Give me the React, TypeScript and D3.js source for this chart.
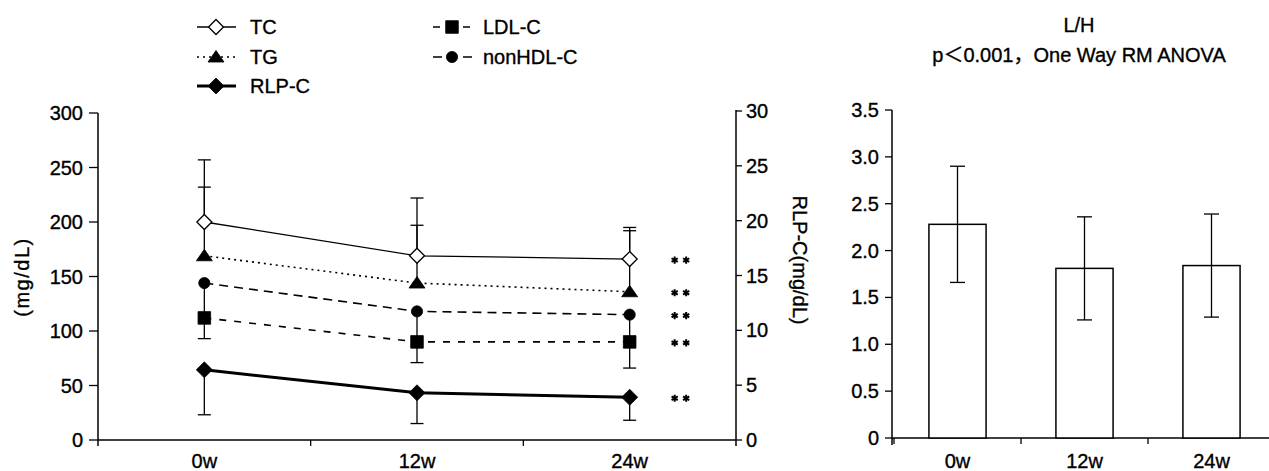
import React from 'react';
import * as d3 from 'd3';

// categories
const weeks = ['0w', '12w', '24w'];

// left chart (mg/dL)
const tcMean = [200, 169, 166];
const tcSdUp = [57, 53, 29];
const tgMean = [169, 144, 136];
const tgSdUp = [63, 53, 56];
const nonHdlMean = [144, 118, 115];
const nonHdlSdDown = [51, 47, 49];
const ldlMean = [112, 90, 90];
const rlpMean = [6.4, 4.3, 3.9]; // right axis, RLP-C
const rlpSdDown = [4.1, 2.8, 2.1];

// right chart L/H
const lhMean = [2.28, 1.81, 1.84];
const lhSd = [0.62, 0.55, 0.55];

const leftTicks = [0, 50, 100, 150, 200, 250, 300];
const rightTicks = [0, 5, 10, 15, 20, 25, 30];
const lhTicks = [0, 0.5, 1, 1.5, 2, 2.5, 3, 3.5];
const lhTickLabels = ['0', '0.5', '1.0', '1.5', '2.0', '2.5', '3.0', '3.5'];

const FONT = '"Liberation Sans", Arial, "Noto Sans CJK JP", sans-serif';

type Series = {
  name: string;
  values: number[];
  axis: 'left' | 'right';
  err: number[] | null;
  errDir: number; // +1 up, -1 down
  marker: string;
  width: number;
  dash: string | null;
  legend: [number, number];
};

const series: Series[] = [
  { name: 'TC', values: tcMean, axis: 'left', err: tcSdUp, errDir: 1, marker: 'diamondOpen', width: 1.3, dash: null, legend: [0, 0] },
  { name: 'TG', values: tgMean, axis: 'left', err: tgSdUp, errDir: 1, marker: 'triangle', width: 1.6, dash: '2 4', legend: [0, 1] },
  { name: 'RLP-C', values: rlpMean, axis: 'right', err: rlpSdDown, errDir: -1, marker: 'diamond', width: 3, dash: null, legend: [0, 2] },
  { name: 'LDL-C', values: ldlMean, axis: 'left', err: null, errDir: -1, marker: 'square', width: 1.6, dash: '7 8', legend: [1, 0] },
  { name: 'nonHDL-C', values: nonHdlMean, axis: 'left', err: nonHdlSdDown, errDir: -1, marker: 'circle', width: 1.6, dash: '9 6', legend: [1, 1] },
];

function Marker({ kind, x, y }: { kind: string; x: number; y: number }) {
  const p = d3.path();
  if (kind === 'diamond' || kind === 'diamondOpen') {
    const s = kind === 'diamond' ? 8 : 7.5;
    p.moveTo(x, y - s); p.lineTo(x + s, y); p.lineTo(x, y + s); p.lineTo(x - s, y); p.closePath();
  } else if (kind === 'triangle') {
    p.moveTo(x, y - 6.5); p.lineTo(x + 8, y + 5); p.lineTo(x - 8, y + 5); p.closePath();
  } else if (kind === 'square') {
    p.rect(x - 6.3, y - 6.3, 12.6, 12.6);
  } else {
    p.arc(x, y, 5.6, 0, Math.PI * 2);
  }
  const open = kind === 'diamondOpen';
  return <path d={p.toString()} fill={open ? '#fff' : '#000'} stroke="#000" strokeWidth={open ? 1.3 : 0.8} />;
}

export default function App() {
  const x = d3.scaleBand<string>().domain(weeks).range([98, 736]);
  const yL = d3.scaleLinear().domain([0, 300]).range([440, 113]);
  const yR = d3.scaleLinear().domain([0, 30]).range([440, 111]);
  const cx = (w: string) => (x(w) as number) + x.bandwidth() / 2;
  const yOf = (s: Series) => (s.axis === 'left' ? yL : yR);

  const xb = d3.scaleBand<string>().domain(weeks).range([894, 1275]);
  const yb = d3.scaleLinear().domain([0, 3.5]).range([438, 110]);
  const barW = xb.bandwidth() * 0.45;
  const bx = (w: string) => (xb(w) as number) + xb.bandwidth() / 2;

  const star = d3.symbol().type(d3.symbolAsterisk).size(36)();
  const txt = { stroke: '#000', strokeWidth: 0.35 };

  return (
    <div style={{ position: 'absolute', left: 0, top: 0 }}>
      <svg width={1269} height={471} style={{ display: 'block', background: '#fff' }} fontFamily={FONT} fontSize={20}>
        {/* legend */}
        {series.map((s) => {
          const lx = s.legend[0] === 0 ? 216 : 452;
          const ly = [27, 57, 86][s.legend[1]];
          return (
            <g key={'lg' + s.name}>
              <line x1={lx - 19} x2={lx + 20} y1={ly} y2={ly} stroke="#000" strokeWidth={s.width} strokeDasharray={s.dash ?? undefined} />
              <Marker kind={s.marker} x={lx} y={ly} />
              <text x={lx + (s.legend[0] === 0 ? 34 : 31)} y={ly} dy="0.35em" {...txt}>{s.name}</text>
            </g>
          );
        })}

        {/* left chart axes */}
        <line x1={98} x2={98} y1={113} y2={446} stroke="#000" strokeWidth={1.5} />
        <line x1={736} x2={736} y1={110} y2={446} stroke="#000" strokeWidth={1.5} />
        <line x1={98} x2={736} y1={440} y2={440} stroke="#000" strokeWidth={1.5} />
        {leftTicks.map((t) => (
          <g key={'lt' + t}>
            <line x1={89} x2={98} y1={yL(t)} y2={yL(t)} stroke="#000" strokeWidth={1.3} />
            <text x={83} y={yL(t)} dy="0.35em" textAnchor="end" {...txt}>{t}</text>
          </g>
        ))}
        {rightTicks.map((t) => (
          <g key={'rt' + t}>
            <line x1={736} x2={742} y1={yR(t)} y2={yR(t)} stroke="#000" strokeWidth={1.3} />
            <text x={746} y={yR(t)} dy="0.35em" {...txt}>{t}</text>
          </g>
        ))}
        {weeks.slice(1).map((w) => (
          <line key={'xt' + w} x1={x(w)} x2={x(w)} y1={440} y2={446} stroke="#000" strokeWidth={1.3} />
        ))}
        {weeks.map((w) => (
          <text key={'xl' + w} x={cx(w)} y={461} dy="0.35em" textAnchor="middle" {...txt}>{w}</text>
        ))}
        <text transform="translate(22,277) rotate(-90)" textAnchor="middle" dy="0.35em" letterSpacing={1.5} {...txt}>(mg/dL)</text>
        <text transform="translate(800,260) rotate(90)" textAnchor="middle" dy="0.35em" {...txt}>RLP-C(mg/dL)</text>

        {/* error bars */}
        {series.filter((s) => s.err).map((s) =>
          s.values.map((v, i) => {
            const xx = cx(weeks[i]);
            const y0 = yOf(s)(v);
            const y1 = yOf(s)(v + s.errDir * (s.err as number[])[i]);
            return (
              <g key={'eb' + s.name + i}>
                <line x1={xx} x2={xx} y1={y0} y2={y1} stroke="#000" strokeWidth={1.3} />
                <line x1={xx - 6.5} x2={xx + 6.5} y1={y1} y2={y1} stroke="#000" strokeWidth={1.3} />
              </g>
            );
          })
        )}
        {/* lines */}
        {series.map((s) => {
          const line = d3.line<number>().x((_, i) => cx(weeks[i])).y((v) => yOf(s)(v));
          return <path key={'ln' + s.name} d={line(s.values) as string} fill="none" stroke="#000" strokeWidth={s.width} strokeDasharray={s.dash ?? undefined} />;
        })}
        {/* markers */}
        {series.map((s) => s.values.map((v, i) => <Marker key={'mk' + s.name + i} kind={s.marker} x={cx(weeks[i])} y={yOf(s)(v)} />))}
        {/* significance */}
        {series.map((s) => {
          const last = s.values.length - 1;
          const yy = yOf(s)(s.values[last]) + 1;
          const xx = cx(weeks[last]) + 45;
          return (
            <g key={'st' + s.name} fill="none" stroke="#000" strokeWidth={2}>
              <path d={star as string} transform={`translate(${xx},${yy})`} />
              <path d={star as string} transform={`translate(${xx + 11.5},${yy})`} />
            </g>
          );
        })}

        {/* right chart */}
        <text x={1079} y={25} dy="0.35em" textAnchor="middle" {...txt}>L/H</text>
        <text x={1079} y={55} dy="0.35em" textAnchor="middle" {...txt}>p＜0.001，One Way RM ANOVA</text>
        <line x1={892} x2={892} y1={110} y2={445} stroke="#000" strokeWidth={1.5} />
        <line x1={892} x2={1269} y1={438} y2={438} stroke="#000" strokeWidth={1.5} />
        {lhTicks.map((t, i) => (
          <g key={'bt' + t}>
            <line x1={885} x2={892} y1={yb(t)} y2={yb(t)} stroke="#000" strokeWidth={1.3} />
            <text x={879} y={yb(t)} dy="0.35em" textAnchor="end" {...txt}>{lhTickLabels[i]}</text>
          </g>
        ))}
        {weeks.map((w) => (
          <line key={'bxt' + w} x1={xb(w)} x2={xb(w)} y1={438} y2={444} stroke="#000" strokeWidth={1.3} />
        ))}
        {weeks.map((w) => (
          <text key={'bxl' + w} x={bx(w)} y={461} dy="0.35em" textAnchor="middle" {...txt}>{w}</text>
        ))}
        {lhMean.map((v, i) => {
          const w = weeks[i];
          const xx = bx(w);
          return (
            <g key={'bar' + w}>
              <rect x={xx - barW / 2} y={yb(v)} width={barW} height={yb(0) - yb(v)} fill="#fff" stroke="#000" strokeWidth={1.5} />
              <line x1={xx} x2={xx} y1={yb(v - lhSd[i])} y2={yb(v + lhSd[i])} stroke="#000" strokeWidth={1.3} />
              <line x1={xx - 7.5} x2={xx + 7.5} y1={yb(v + lhSd[i])} y2={yb(v + lhSd[i])} stroke="#000" strokeWidth={1.3} />
              <line x1={xx - 7.5} x2={xx + 7.5} y1={yb(v - lhSd[i])} y2={yb(v - lhSd[i])} stroke="#000" strokeWidth={1.3} />
            </g>
          );
        })}
      </svg>
    </div>
  );
}
